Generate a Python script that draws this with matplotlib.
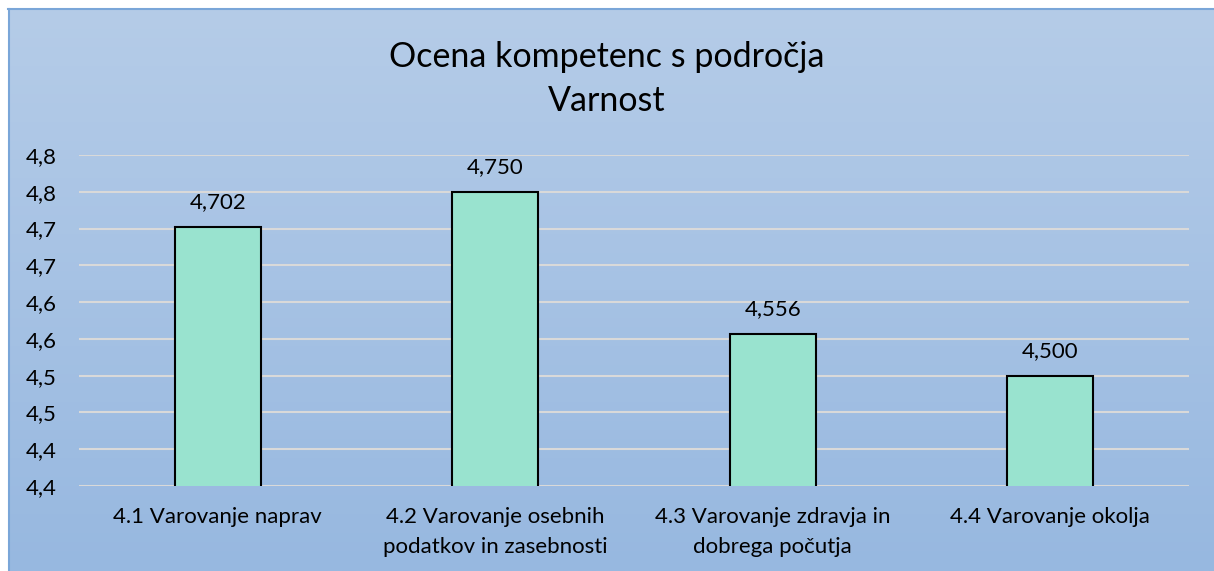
from decimal import Decimal, ROUND_HALF_UP
import numpy as np
import matplotlib.pyplot as plt

categories = ['4.1 Varovanje naprav',
              '4.2 Varovanje osebnih\npodatkov in zasebnosti',
              '4.3 Varovanje zdravja in\ndobrega počutja',
              '4.4 Varovanje okolja']
values = [4.702, 4.750, 4.556, 4.500]
y_ticks = [4.35, 4.40, 4.45, 4.50, 4.55, 4.60, 4.65, 4.70, 4.75, 4.80]

plt.rcParams['font.family'] = ['Lato', 'DejaVu Sans']

W, H = 1214, 571
fig = plt.figure(figsize=(W / 100, H / 100), dpi=100, facecolor='white')

# gradient background panel with border on left/top
bg = fig.add_axes([8 / W, 0, 1 - 8 / W, (H - 9) / H])
grad = np.linspace(0, 1, 256).reshape(-1, 1)
top_c = np.array([0xb5, 0xcc, 0xe8]) / 255
bot_c = np.array([0x97, 0xb8, 0xe0]) / 255
img = top_c * (1 - grad)[..., None] + bot_c * grad[..., None]
bg.imshow(img, aspect='auto', extent=[0, 1, 0, 1], origin='upper')
bg.set_xlim(0, 1)
bg.set_ylim(0, 1)
bg.axis('off')
fig.add_artist(plt.Line2D([8.5 / W, 8.5 / W], [0, (H - 9) / H], color='#7aa6d8', lw=1.5))
fig.add_artist(plt.Line2D([8 / W, 1], [(H - 9) / H, (H - 9) / H], color='#7aa6d8', lw=1.5))

ax = fig.add_axes([79 / W, 85 / H, (1189 - 79) / W, (486 - 155) / H])
ax.patch.set_alpha(0)
x = np.arange(len(categories))
bars = ax.bar(x, values, width=0.31, color='#99e3cf', edgecolor='black', linewidth=1.5, zorder=3)
ax.set_xlim(-0.5, len(categories) - 0.5)
ax.set_ylim(y_ticks[0], y_ticks[-1])
ax.set_yticks(y_ticks)


def fmt(v):
    d = Decimal(str(round(v, 2))).quantize(Decimal('0.1'), rounding=ROUND_HALF_UP)
    return str(d).replace('.', ',')


ax.set_yticklabels([fmt(v) for v in y_ticks], fontsize=16)
ax.set_xticks(x)
ax.set_xticklabels(categories, fontsize=16, linespacing=1.65, va='top')
ax.tick_params(axis='both', length=0, colors='black')
ax.tick_params(axis='y', pad=16)
ax.tick_params(axis='x', pad=15)
ax.yaxis.grid(True, color='#d9d9d9', linewidth=1.5, zorder=0)
for s in ax.spines.values():
    s.set_visible(False)

for b, v in zip(bars, values):
    ax.annotate(f'{v:.3f}'.replace('.', ','), (b.get_x() + b.get_width() / 2, v),
                xytext=(0, 18), textcoords='offset points', ha='center', va='center',
                fontsize=16)

fig.text(607 / W, (H - 57) / H, 'Ocena kompetenc s področja', ha='center', va='center', fontsize=24.5)
fig.text(607 / W, (H - 101) / H, 'Varnost', ha='center', va='center', fontsize=24.5)

fig.savefig('out.png', dpi=100, facecolor='white')
